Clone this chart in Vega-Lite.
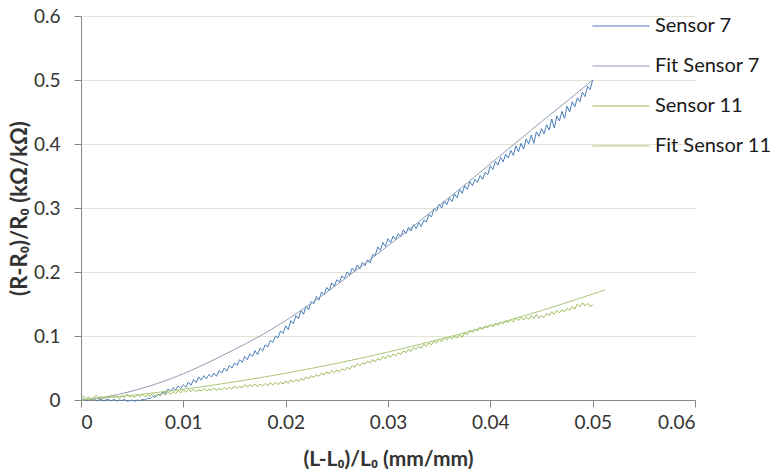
{
  "$schema": "https://vega.github.io/schema/vega-lite/v6.json",
  "width": 614,
  "height": 384,
  "autosize": {"type": "none"},
  "padding": {"left": 81, "top": 16, "right": 79, "bottom": 76},
  "config": {
    "view": {"stroke": null},
    "font": "Lato",
    "axis": {
      "domainColor": "#868686",
      "tickColor": "#868686",
      "labelFont": "Lato",
      "labelFontSize": 19,
      "labelColor": "#333333",
      "titleFont": "Lato",
      "titleFontSize": 21,
      "titleFontWeight": "bold",
      "titleColor": "#333333",
      "gridColor": "#e3e3d3"
    }
  },
  "encoding": {
    "x": {
      "field": "x",
      "type": "quantitative",
      "scale": {"domain": [0, 0.06], "nice": false},
      "axis": {
        "title": "(L-L₀)/L₀ (mm/mm)",
        "values": [0, 0.01, 0.02, 0.03, 0.04, 0.05, 0.06],
        "format": "~g",
        "grid": false,
        "tickSize": 7,
        "labelPadding": 6,
        "titleY": 65,
        "titleBaseline": "alphabetic"
      }
    },
    "y": {
      "field": "y",
      "type": "quantitative",
      "scale": {"domain": [0, 0.6], "nice": false},
      "axis": {
        "title": "(R-R₀)/R₀ (kΩ/kΩ)",
        "values": [0, 0.1, 0.2, 0.3, 0.4, 0.5, 0.6],
        "format": "~g",
        "grid": true,
        "tickSize": 7,
        "labelPadding": 14,
        "titleX": -50,
        "titleY": 192,
        "titleAlign": "center",
        "titleBaseline": "bottom",
        "titleFontSize": 22
      }
    }
  },
  "layer": [
    {
      "data": {"values": [
        {"x":0,"y":0.000},{"x":0.00025,"y":0.002},{"x":0.0005,"y":-0.001},{"x":0.00075,"y":0.001},{"x":0.001,"y":0.000},{"x":0.00125,"y":0.002},{"x":0.0015,"y":-0.001},{"x":0.00175,"y":0.000},
        {"x":0.002,"y":0.001},{"x":0.00225,"y":-0.002},{"x":0.0025,"y":0.001},{"x":0.00275,"y":0.000},{"x":0.003,"y":-0.001},{"x":0.00325,"y":0.001},{"x":0.0035,"y":-0.002},{"x":0.00375,"y":0.000},
        {"x":0.004,"y":-0.001},{"x":0.00425,"y":0.001},{"x":0.0045,"y":-0.002},{"x":0.00475,"y":-0.001},{"x":0.005,"y":0.000},{"x":0.00525,"y":-0.002},{"x":0.0055,"y":0.000},{"x":0.00575,"y":-0.001},
        {"x":0.006,"y":0.001},{"x":0.00625,"y":0.000},{"x":0.0065,"y":0.003},{"x":0.00675,"y":0.002},{"x":0.007,"y":0.006},{"x":0.00725,"y":0.004},{"x":0.0075,"y":0.009},{"x":0.00775,"y":0.007},
        {"x":0.008,"y":0.013},{"x":0.00825,"y":0.010},{"x":0.0085,"y":0.017},{"x":0.00875,"y":0.014},{"x":0.009,"y":0.019},{"x":0.00925,"y":0.016},{"x":0.0095,"y":0.022},{"x":0.00975,"y":0.018},
        {"x":0.010,"y":0.024},{"x":0.01025,"y":0.020},{"x":0.0105,"y":0.028},{"x":0.01075,"y":0.023},{"x":0.011,"y":0.032},{"x":0.01125,"y":0.027},{"x":0.0115,"y":0.036},{"x":0.01175,"y":0.031},
        {"x":0.012,"y":0.038},{"x":0.01225,"y":0.033},{"x":0.0125,"y":0.040},{"x":0.01275,"y":0.036},{"x":0.013,"y":0.042},{"x":0.01325,"y":0.037},{"x":0.0135,"y":0.046},{"x":0.01375,"y":0.042},
        {"x":0.014,"y":0.050},{"x":0.01425,"y":0.045},{"x":0.0145,"y":0.054},{"x":0.01475,"y":0.050},{"x":0.015,"y":0.058},{"x":0.01525,"y":0.054},{"x":0.0155,"y":0.063},{"x":0.01575,"y":0.059},
        {"x":0.016,"y":0.068},{"x":0.01625,"y":0.063},{"x":0.0165,"y":0.072},{"x":0.01675,"y":0.068},{"x":0.017,"y":0.077},{"x":0.01725,"y":0.071},{"x":0.0175,"y":0.081},{"x":0.01775,"y":0.077},
        {"x":0.018,"y":0.086},{"x":0.01825,"y":0.083},{"x":0.0185,"y":0.093},{"x":0.01875,"y":0.090},{"x":0.019,"y":0.100},{"x":0.01925,"y":0.097},{"x":0.0195,"y":0.108},{"x":0.01975,"y":0.104},
        {"x":0.020,"y":0.116},{"x":0.02025,"y":0.110},{"x":0.0205,"y":0.124},{"x":0.02075,"y":0.119},{"x":0.021,"y":0.132},{"x":0.02125,"y":0.127},{"x":0.0215,"y":0.140},{"x":0.02175,"y":0.134},
        {"x":0.022,"y":0.147},{"x":0.02225,"y":0.141},{"x":0.0225,"y":0.154},{"x":0.02275,"y":0.150},{"x":0.023,"y":0.162},{"x":0.02325,"y":0.156},{"x":0.0235,"y":0.169},{"x":0.02375,"y":0.164},
        {"x":0.024,"y":0.176},{"x":0.02425,"y":0.171},{"x":0.0245,"y":0.183},{"x":0.02475,"y":0.178},{"x":0.025,"y":0.188},{"x":0.02525,"y":0.184},{"x":0.0255,"y":0.194},{"x":0.02575,"y":0.190},
        {"x":0.026,"y":0.200},{"x":0.02625,"y":0.195},{"x":0.0265,"y":0.206},{"x":0.02675,"y":0.201},{"x":0.027,"y":0.211},{"x":0.02725,"y":0.205},{"x":0.0275,"y":0.215},{"x":0.02775,"y":0.210},
        {"x":0.028,"y":0.219},{"x":0.02825,"y":0.214},{"x":0.0285,"y":0.227},{"x":0.02875,"y":0.226},{"x":0.029,"y":0.239},{"x":0.02925,"y":0.234},{"x":0.0295,"y":0.246},{"x":0.02975,"y":0.240},
        {"x":0.030,"y":0.252},{"x":0.03025,"y":0.246},{"x":0.0305,"y":0.256},{"x":0.03075,"y":0.251},{"x":0.031,"y":0.260},{"x":0.03125,"y":0.255},{"x":0.0315,"y":0.266},{"x":0.03175,"y":0.260},
        {"x":0.032,"y":0.270},{"x":0.03225,"y":0.264},{"x":0.0325,"y":0.274},{"x":0.03275,"y":0.268},{"x":0.033,"y":0.277},{"x":0.03325,"y":0.271},{"x":0.0335,"y":0.281},{"x":0.03375,"y":0.278},
        {"x":0.034,"y":0.290},{"x":0.03425,"y":0.286},{"x":0.0345,"y":0.299},{"x":0.03475,"y":0.295},{"x":0.035,"y":0.306},{"x":0.03525,"y":0.300},{"x":0.0355,"y":0.311},{"x":0.03575,"y":0.305},
        {"x":0.036,"y":0.316},{"x":0.03625,"y":0.310},{"x":0.0365,"y":0.322},{"x":0.03675,"y":0.316},{"x":0.037,"y":0.329},{"x":0.03725,"y":0.323},{"x":0.0375,"y":0.335},{"x":0.03775,"y":0.329},
        {"x":0.038,"y":0.341},{"x":0.03825,"y":0.335},{"x":0.0385,"y":0.345},{"x":0.03875,"y":0.340},{"x":0.039,"y":0.351},{"x":0.03925,"y":0.345},{"x":0.0395,"y":0.356},{"x":0.03975,"y":0.352},
        {"x":0.040,"y":0.366},{"x":0.04025,"y":0.360},{"x":0.0405,"y":0.373},{"x":0.04075,"y":0.367},{"x":0.041,"y":0.379},{"x":0.04125,"y":0.372},{"x":0.0415,"y":0.384},{"x":0.04175,"y":0.378},
        {"x":0.042,"y":0.390},{"x":0.04225,"y":0.382},{"x":0.0425,"y":0.397},{"x":0.04275,"y":0.388},{"x":0.043,"y":0.401},{"x":0.04325,"y":0.392},{"x":0.0435,"y":0.408},{"x":0.04375,"y":0.400},
        {"x":0.044,"y":0.414},{"x":0.04425,"y":0.401},{"x":0.0445,"y":0.419},{"x":0.04475,"y":0.412},{"x":0.045,"y":0.424},{"x":0.04525,"y":0.416},{"x":0.0455,"y":0.430},{"x":0.04575,"y":0.422},
        {"x":0.046,"y":0.439},{"x":0.04625,"y":0.425},{"x":0.0465,"y":0.444},{"x":0.04675,"y":0.436},{"x":0.047,"y":0.451},{"x":0.04725,"y":0.440},{"x":0.0475,"y":0.459},{"x":0.04775,"y":0.450},
        {"x":0.048,"y":0.466},{"x":0.04825,"y":0.458},{"x":0.0485,"y":0.472},{"x":0.04875,"y":0.466},{"x":0.049,"y":0.481},{"x":0.04925,"y":0.474},{"x":0.0495,"y":0.490},{"x":0.04975,"y":0.485},
        {"x":0.050,"y":0.500}
      ]},
      "mark": {"type": "line", "strokeWidth": 1},
      "encoding": {
        "color": {
          "datum": "Sensor 7",
          "type": "nominal",
          "scale": {
            "domain": ["Sensor 7", "Fit Sensor 7", "Sensor 11", "Fit Sensor 11"],
            "range": ["#4a7ebb", "#8f9db3", "#9bbb59", "#aac67c"]
          },
          "legend": {
            "orient": "none",
            "legendX": 530,
            "legendY": 0,
            "title": null,
            "symbolType": "M-5,0H5",
            "symbolSize": 130,
            "symbolStrokeWidth": 1,
            "symbolFillColor": "transparent",
            "labelFont": "Lato",
            "labelFontSize": 20,
            "labelColor": "#1a1a1a",
            "labelOffset": 24,
            "rowPadding": 20,
            "padding": 0
          }
        }
      }
    },
    {
      "data": {"values": [
        {"x":0,"y":0},{"x":0.0025,"y":0.005},{"x":0.005,"y":0.014},{"x":0.0075,"y":0.026},{"x":0.01,"y":0.041},{"x":0.0125,"y":0.059},{"x":0.015,"y":0.079},
        {"x":0.0175,"y":0.1},{"x":0.02,"y":0.124},{"x":0.0225,"y":0.151},{"x":0.025,"y":0.18},{"x":0.0275,"y":0.21},{"x":0.03,"y":0.241},{"x":0.0325,"y":0.272},
        {"x":0.035,"y":0.304},{"x":0.0375,"y":0.336},{"x":0.04,"y":0.369},{"x":0.0425,"y":0.402},{"x":0.045,"y":0.435},{"x":0.0475,"y":0.467},{"x":0.05,"y":0.5}
      ]},
      "mark": {"type": "line", "strokeWidth": 1, "interpolate": "monotone"},
      "encoding": {"color": {"datum": "Fit Sensor 7", "type": "nominal"}}
    },
    {
      "data": {"values": [
        {"x":0,"y":0.003},{"x":0.00025,"y":0.006},{"x":0.0005,"y":0.002},{"x":0.00075,"y":0.005},{"x":0.001,"y":0.001},{"x":0.00125,"y":0.004},{"x":0.0015,"y":0.007},{"x":0.00175,"y":0.003},
        {"x":0.002,"y":0.005},{"x":0.00225,"y":0.002},{"x":0.0025,"y":0.006},{"x":0.00275,"y":0.003},{"x":0.003,"y":0.008},{"x":0.00325,"y":0.004},{"x":0.0035,"y":0.006},{"x":0.00375,"y":0.002},
        {"x":0.004,"y":0.007},{"x":0.00425,"y":0.004},{"x":0.0045,"y":0.009},{"x":0.00475,"y":0.005},{"x":0.005,"y":0.007},{"x":0.00525,"y":0.004},{"x":0.0055,"y":0.008},{"x":0.00575,"y":0.005},
        {"x":0.006,"y":0.009},{"x":0.00625,"y":0.005},{"x":0.0065,"y":0.008},{"x":0.00675,"y":0.006},{"x":0.007,"y":0.010},{"x":0.00725,"y":0.006},{"x":0.0075,"y":0.009},{"x":0.00775,"y":0.007},
        {"x":0.008,"y":0.011},{"x":0.00825,"y":0.008},{"x":0.0085,"y":0.012},{"x":0.00875,"y":0.009},{"x":0.009,"y":0.013},{"x":0.00925,"y":0.010},{"x":0.0095,"y":0.015},{"x":0.00975,"y":0.011},
        {"x":0.010,"y":0.016},{"x":0.01025,"y":0.012},{"x":0.0105,"y":0.016},{"x":0.01075,"y":0.013},{"x":0.011,"y":0.017},{"x":0.01125,"y":0.013},{"x":0.0115,"y":0.016},{"x":0.01175,"y":0.014},
        {"x":0.012,"y":0.018},{"x":0.01225,"y":0.014},{"x":0.0125,"y":0.017},{"x":0.01275,"y":0.015},{"x":0.013,"y":0.019},{"x":0.01325,"y":0.015},{"x":0.0135,"y":0.018},{"x":0.01375,"y":0.016},
        {"x":0.014,"y":0.020},{"x":0.01425,"y":0.016},{"x":0.0145,"y":0.020},{"x":0.01475,"y":0.017},{"x":0.015,"y":0.022},{"x":0.01525,"y":0.018},{"x":0.0155,"y":0.022},{"x":0.01575,"y":0.019},
        {"x":0.016,"y":0.024},{"x":0.01625,"y":0.020},{"x":0.0165,"y":0.024},{"x":0.01675,"y":0.021},{"x":0.017,"y":0.025},{"x":0.01725,"y":0.021},{"x":0.0175,"y":0.025},{"x":0.01775,"y":0.022},
        {"x":0.018,"y":0.026},{"x":0.01825,"y":0.022},{"x":0.0185,"y":0.027},{"x":0.01875,"y":0.023},{"x":0.019,"y":0.028},{"x":0.01925,"y":0.024},{"x":0.0195,"y":0.028},{"x":0.01975,"y":0.025},
        {"x":0.020,"y":0.030},{"x":0.02025,"y":0.026},{"x":0.0205,"y":0.031},{"x":0.02075,"y":0.028},{"x":0.021,"y":0.032},{"x":0.02125,"y":0.029},{"x":0.0215,"y":0.034},{"x":0.02175,"y":0.031},
        {"x":0.022,"y":0.036},{"x":0.02225,"y":0.033},{"x":0.0225,"y":0.038},{"x":0.02275,"y":0.035},{"x":0.023,"y":0.040},{"x":0.02325,"y":0.037},{"x":0.0235,"y":0.042},{"x":0.02375,"y":0.039},
        {"x":0.024,"y":0.044},{"x":0.02425,"y":0.041},{"x":0.0245,"y":0.046},{"x":0.02475,"y":0.043},{"x":0.025,"y":0.047},{"x":0.02525,"y":0.044},{"x":0.0255,"y":0.049},{"x":0.02575,"y":0.046},
        {"x":0.026,"y":0.051},{"x":0.02625,"y":0.048},{"x":0.0265,"y":0.054},{"x":0.02675,"y":0.051},{"x":0.027,"y":0.057},{"x":0.02725,"y":0.053},{"x":0.0275,"y":0.058},{"x":0.02775,"y":0.056},
        {"x":0.028,"y":0.061},{"x":0.02825,"y":0.058},{"x":0.0285,"y":0.063},{"x":0.02875,"y":0.060},{"x":0.029,"y":0.065},{"x":0.02925,"y":0.062},{"x":0.0295,"y":0.068},{"x":0.02975,"y":0.065},
        {"x":0.030,"y":0.070},{"x":0.03025,"y":0.067},{"x":0.0305,"y":0.072},{"x":0.03075,"y":0.069},{"x":0.031,"y":0.074},{"x":0.03125,"y":0.071},{"x":0.0315,"y":0.077},{"x":0.03175,"y":0.074},
        {"x":0.032,"y":0.079},{"x":0.03225,"y":0.076},{"x":0.0325,"y":0.082},{"x":0.03275,"y":0.079},{"x":0.033,"y":0.084},{"x":0.03325,"y":0.081},{"x":0.0335,"y":0.087},{"x":0.03375,"y":0.084},
        {"x":0.034,"y":0.089},{"x":0.03425,"y":0.086},{"x":0.0345,"y":0.092},{"x":0.03475,"y":0.089},{"x":0.035,"y":0.095},{"x":0.03525,"y":0.091},{"x":0.0355,"y":0.097},{"x":0.03575,"y":0.094},
        {"x":0.036,"y":0.099},{"x":0.03625,"y":0.095},{"x":0.0365,"y":0.100},{"x":0.03675,"y":0.097},{"x":0.037,"y":0.102},{"x":0.03725,"y":0.098},{"x":0.0375,"y":0.105},{"x":0.03775,"y":0.102},
        {"x":0.038,"y":0.109},{"x":0.03825,"y":0.105},{"x":0.0385,"y":0.111},{"x":0.03875,"y":0.108},{"x":0.039,"y":0.114},{"x":0.03925,"y":0.110},{"x":0.0395,"y":0.116},{"x":0.03975,"y":0.113},
        {"x":0.040,"y":0.118},{"x":0.04025,"y":0.114},{"x":0.0405,"y":0.120},{"x":0.04075,"y":0.116},{"x":0.041,"y":0.122},{"x":0.04125,"y":0.119},{"x":0.0415,"y":0.124},{"x":0.04175,"y":0.121},
        {"x":0.042,"y":0.126},{"x":0.04225,"y":0.122},{"x":0.0425,"y":0.128},{"x":0.04275,"y":0.124},{"x":0.043,"y":0.129},{"x":0.04325,"y":0.125},{"x":0.0435,"y":0.130},{"x":0.04375,"y":0.126},
        {"x":0.044,"y":0.132},{"x":0.04425,"y":0.127},{"x":0.0445,"y":0.134},{"x":0.04475,"y":0.128},{"x":0.045,"y":0.132},{"x":0.04525,"y":0.129},{"x":0.0455,"y":0.135},{"x":0.04575,"y":0.132},
        {"x":0.046,"y":0.138},{"x":0.04625,"y":0.134},{"x":0.0465,"y":0.140},{"x":0.04675,"y":0.136},{"x":0.047,"y":0.141},{"x":0.04725,"y":0.138},{"x":0.0475,"y":0.143},{"x":0.04775,"y":0.140},
        {"x":0.048,"y":0.146},{"x":0.04825,"y":0.142},{"x":0.0485,"y":0.150},{"x":0.04875,"y":0.146},{"x":0.049,"y":0.152},{"x":0.04925,"y":0.147},{"x":0.0495,"y":0.151},{"x":0.04975,"y":0.146},
        {"x":0.050,"y":0.149}
      ]},
      "mark": {"type": "line", "strokeWidth": 1},
      "encoding": {"color": {"datum": "Sensor 11", "type": "nominal"}}
    },
    {
      "data": {"values": [
        {"x":0,"y":0},{"x":0.005,"y":0.0074},{"x":0.01,"y":0.0168},{"x":0.015,"y":0.0283},{"x":0.02,"y":0.0418},{"x":0.025,"y":0.0573},
        {"x":0.03,"y":0.0749},{"x":0.035,"y":0.0945},{"x":0.04,"y":0.1161},{"x":0.045,"y":0.1398},{"x":0.05,"y":0.1655},{"x":0.0512,"y":0.172}
      ]},
      "mark": {"type": "line", "strokeWidth": 1, "interpolate": "monotone"},
      "encoding": {"color": {"datum": "Fit Sensor 11", "type": "nominal"}}
    }
  ]
}
